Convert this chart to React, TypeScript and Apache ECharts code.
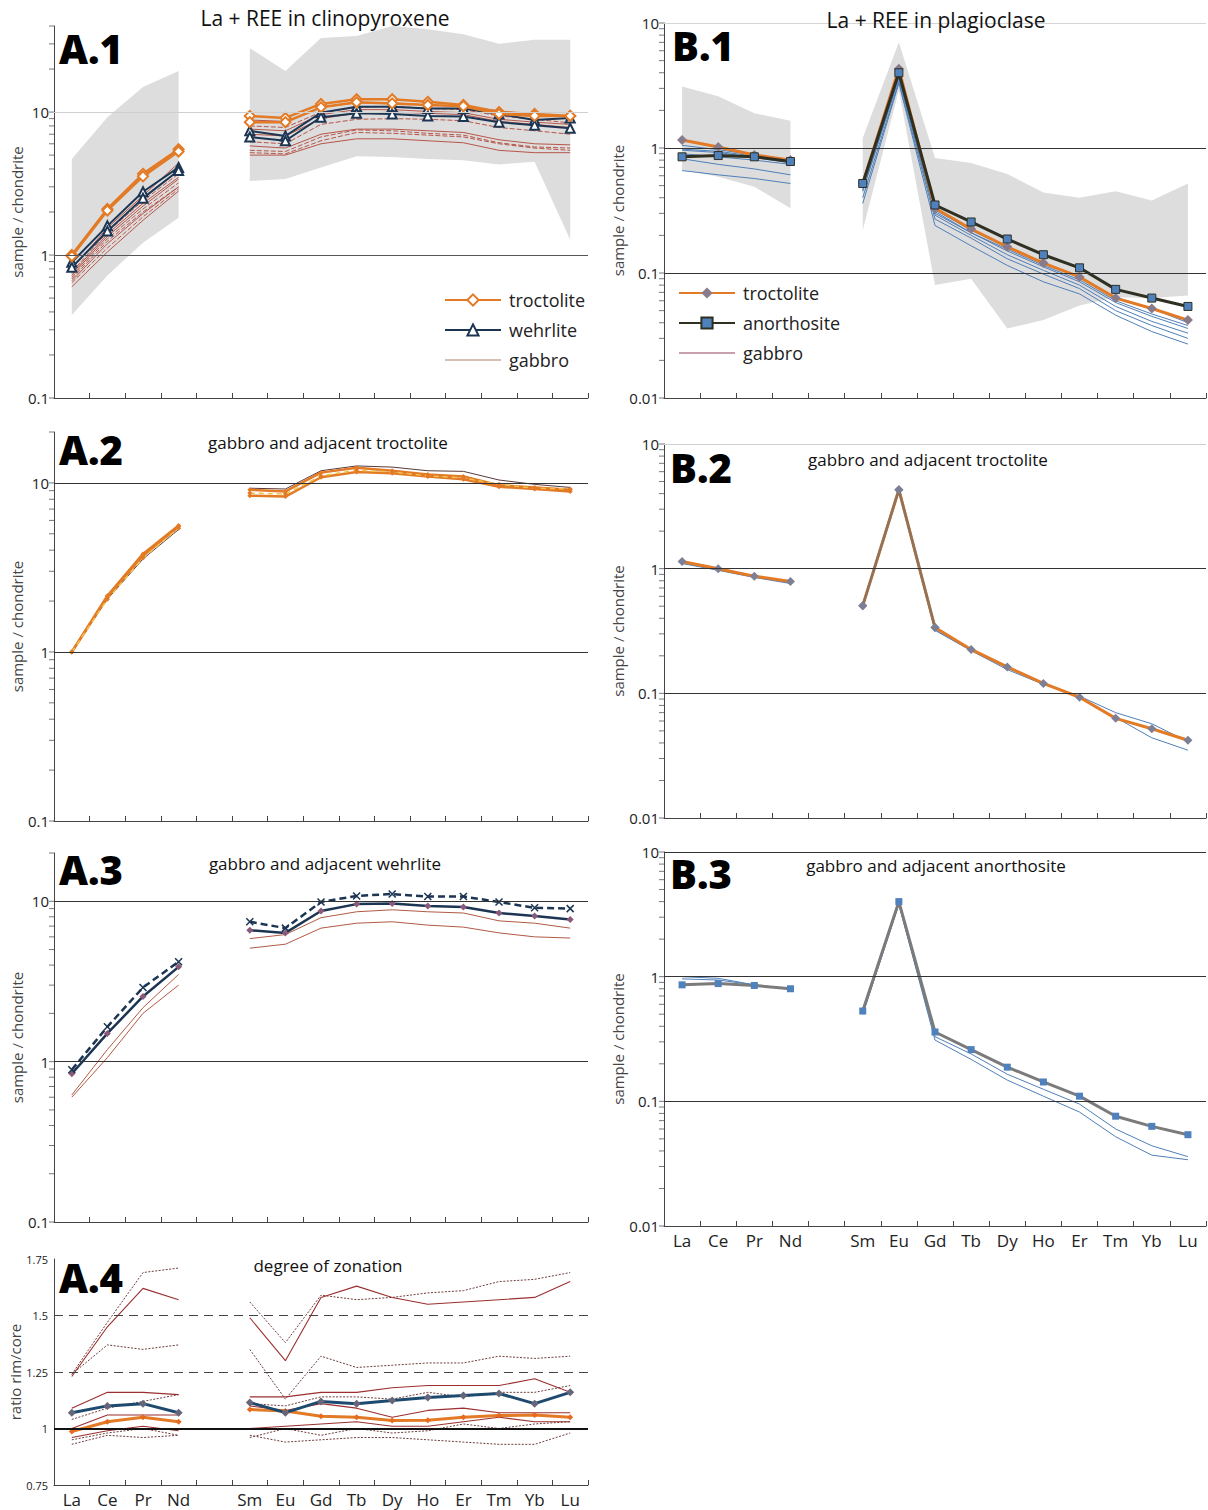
import React, { useEffect, useRef } from 'react';
import * as echarts from 'echarts';

const FONT = "'Open Sans', 'Noto Sans', sans-serif";

// x categories (empty slot = Pm gap)
const AXIS_CATEGORIES = ['La', 'Ce', 'Pr', 'Nd', '', 'Sm', 'Eu', 'Gd', 'Tb', 'Dy', 'Ho', 'Er', 'Tm', 'Yb', 'Lu'];
const LOG_TICK_MULTIPLIERS = [1, 2, 3, 4, 5, 6, 7, 8, 9];

// ---------- A.1 clinopyroxene ----------
const A1_ENV_LOWER = [0.38, 0.72, 1.22, 1.82, 3.3, 3.4, 4.1, 4.9, 4.85, 4.7, 4.6, 4.3, 4.5, 1.28];
const A1_ENV_UPPER = [4.7, 9.2, 15, 19.4, 28, 19.4, 33, 34, 40, 38, 35, 30, 32, 32];
const A1_TROC = [
  [1.0, 2.1, 3.7, 5.5, 9.4, 9.1, 11.4, 12.3, 12.3, 11.8, 11.2, 10.0, 9.7, 9.4],
  [0.98, 2.05, 3.55, 5.3, 8.5, 8.5, 10.8, 11.7, 11.5, 11.2, 11.0, 9.7, 9.4, 9.4],
];
const A1_WEHR = [
  [0.89, 1.6, 2.77, 4.1, 7.4, 6.8, 9.9, 10.9, 10.9, 10.6, 10.6, 9.7, 8.8, 9.1],
  [0.82, 1.47, 2.5, 3.9, 6.7, 6.3, 9.2, 9.8, 9.7, 9.4, 9.3, 8.5, 8.1, 7.7],
];
const A1_GAB = [
  [0.80, 1.55, 2.6, 4.4, 8.8, 8.6, 10.8, 11.6, 11.6, 11.2, 11.0, 10.2, 9.6, 9.2],
  [0.76, 1.45, 2.4, 3.7, 8.0, 7.8, 10.0, 10.8, 11.0, 10.6, 10.4, 9.4, 8.9, 8.4],
  [0.72, 1.35, 2.2, 3.4, 7.0, 6.8, 9.0, 9.8, 10.0, 9.8, 9.6, 8.6, 8.2, 7.8],
  [0.70, 1.30, 2.1, 3.2, 6.2, 6.0, 8.2, 8.9, 9.0, 8.9, 8.7, 7.8, 7.4, 7.0],
  [0.66, 1.20, 1.95, 3.0, 5.8, 5.6, 7.0, 7.6, 7.6, 7.4, 7.2, 6.4, 6.0, 5.9],
  [0.64, 1.12, 1.85, 2.9, 5.4, 5.3, 6.7, 7.5, 7.4, 7.1, 6.9, 6.1, 5.7, 5.6],
  [0.60, 1.05, 1.75, 2.8, 5.0, 5.0, 6.0, 6.5, 6.5, 6.3, 6.1, 5.4, 5.2, 5.2],
  [0.68, 1.25, 2.0, 3.0, 5.2, 5.1, 6.3, 7.2, 7.1, 6.9, 6.7, 6.0, 5.6, 5.4],
  [0.74, 1.40, 2.3, 3.5, 7.6, 7.4, 9.6, 10.4, 10.4, 10.1, 9.9, 8.9, 8.5, 8.2],
];

// ---------- A.2 ----------
const A2_TROC = [
  [1.0, 2.1, 3.7, 5.5, 9.1, 8.9, 11.5, 12.3, 11.8, 11.2, 10.9, 9.7, 9.4, 9.1],
  [1.0, 2.15, 3.8, 5.6, 8.4, 8.3, 10.8, 11.6, 11.4, 10.9, 10.5, 9.5, 9.2, 8.9],
];
const A2_TROC_DASHED = [1.0, 2.05, 3.6, 5.4, 8.7, 8.6, 11.0, 11.9, 11.6, 11.0, 10.7, 9.8, 9.3, 9.2];
const A2_GAB = [1.0, 2.05, 3.55, 5.3, 9.3, 9.2, 11.8, 12.6, 12.4, 11.8, 11.7, 10.4, 9.8, 9.4];

// ---------- A.3 ----------
const A3_WEHR_DASHED = [0.89, 1.65, 2.9, 4.2, 7.45, 6.8, 9.9, 10.8, 11.1, 10.7, 10.7, 9.9, 9.1, 9.0];
const A3_WEHR = [0.84, 1.5, 2.55, 3.9, 6.6, 6.35, 8.7, 9.6, 9.7, 9.35, 9.2, 8.45, 8.1, 7.7];
const A3_GAB = [
  [0.62, 1.19, 2.17, 3.5, 5.85, 6.2, 7.9, 8.6, 8.85, 8.6, 8.45, 7.55, 7.3, 6.8],
  [0.60, 1.06, 2.0, 3.0, 5.1, 5.4, 6.8, 7.3, 7.45, 7.1, 6.9, 6.35, 6.0, 5.9],
];

// ---------- A.4 zonation ----------
const A4_WEHR = [1.07, 1.10, 1.11, 1.07, 1.115, 1.07, 1.12, 1.11, 1.124, 1.137, 1.146, 1.155, 1.11, 1.16];
const A4_TROC = [0.987, 1.03, 1.05, 1.03, 1.084, 1.077, 1.054, 1.05, 1.035, 1.037, 1.05, 1.057, 1.06, 1.05];
const A4_GAB = [
  [1.24, 1.47, 1.69, 1.71, 1.56, 1.38, 1.59, 1.57, 1.58, 1.60, 1.61, 1.65, 1.66, 1.69],
  [1.23, 1.45, 1.62, 1.57, 1.49, 1.30, 1.58, 1.63, 1.58, 1.55, 1.56, 1.57, 1.58, 1.65],
  [1.24, 1.37, 1.35, 1.37, 1.35, 1.13, 1.32, 1.27, 1.28, 1.29, 1.29, 1.32, 1.31, 1.32],
  [1.09, 1.16, 1.16, 1.15, 1.14, 1.14, 1.16, 1.16, 1.18, 1.19, 1.19, 1.19, 1.22, 1.16],
  [1.04, 1.09, 1.12, 1.15, 1.11, 1.10, 1.14, 1.14, 1.13, 1.16, 1.14, 1.16, 1.16, 1.19],
  [1.00, 1.06, 1.06, 1.06, 1.10, 1.08, 1.11, 1.09, 1.05, 1.08, 1.09, 1.07, 1.07, 1.07],
  [0.96, 0.99, 1.01, 0.99, 1.00, 1.01, 1.02, 1.03, 1.01, 1.01, 1.03, 1.05, 1.03, 1.03],
  [0.95, 0.98, 1.00, 0.97, 0.96, 1.00, 0.97, 1.00, 0.98, 0.99, 1.02, 1.00, 1.02, 1.03],
  [0.93, 0.97, 0.96, 0.97, 0.97, 0.94, 0.95, 0.96, 0.96, 0.95, 0.94, 0.93, 0.93, 0.98],
];
const A4_GAB_DOTTED = [true, false, true, false, true, false, false, true, true];

// ---------- B.1 plagioclase ----------
const B1_ENV_LOWER = [0.67, 0.59, 0.49, 0.33, 0.22, 2.9, 0.08, 0.09, 0.036, 0.042, 0.055, 0.064, 0.063, 0.066];
const B1_ENV_UPPER = [3.1, 2.6, 1.9, 1.65, 1.2, 7.0, 0.83, 0.76, 0.62, 0.44, 0.40, 0.45, 0.38, 0.52];
const B1_TROC = [1.16, 1.02, 0.88, 0.80, 0.52, 4.3, 0.33, 0.225, 0.162, 0.12, 0.093, 0.063, 0.052, 0.042];
const B1_ANOR = [0.85, 0.87, 0.85, 0.78, 0.52, 4.0, 0.35, 0.256, 0.187, 0.14, 0.11, 0.074, 0.063, 0.054];
const B1_GAB = [
  [1.05, 0.97, 0.88, 0.79, 0.50, 4.0, 0.32, 0.22, 0.16, 0.12, 0.092, 0.064, 0.052, 0.040],
  [0.96, 0.92, 0.84, 0.76, 0.48, 3.8, 0.30, 0.21, 0.15, 0.112, 0.085, 0.058, 0.045, 0.036],
  [0.82, 0.74, 0.68, 0.61, 0.45, 3.6, 0.29, 0.20, 0.14, 0.105, 0.080, 0.054, 0.041, 0.033],
  [0.66, 0.61, 0.57, 0.52, 0.40, 3.4, 0.27, 0.19, 0.13, 0.098, 0.075, 0.050, 0.038, 0.030],
  [0.90, 0.85, 0.80, 0.74, 0.36, 3.3, 0.24, 0.165, 0.115, 0.085, 0.068, 0.046, 0.034, 0.027],
  [0.98, 0.94, 0.86, 0.78, 0.46, 3.7, 0.31, 0.21, 0.155, 0.115, 0.088, 0.060, 0.047, 0.038],
];

// ---------- B.2 ----------
const B2_TROC = [1.14, 1.0, 0.87, 0.79, 0.505, 4.3, 0.337, 0.225, 0.163, 0.12, 0.093, 0.063, 0.052, 0.042];
const B2_GAB = [
  [1.10, 0.97, 0.85, 0.76, 0.50, 4.2, 0.32, 0.22, 0.155, 0.118, 0.095, 0.070, 0.057, 0.041],
  [1.12, 0.98, 0.86, 0.77, 0.50, 4.2, 0.325, 0.22, 0.16, 0.12, 0.092, 0.064, 0.044, 0.035],
];
const B2_GAB_GREY = [null, null, null, null, 0.505, 4.3, 0.337, null, null, null, null, null, null, null];

// ---------- B.3 ----------
const B3_ANOR = [0.86, 0.88, 0.85, 0.80, 0.53, 4.0, 0.36, 0.26, 0.188, 0.143, 0.110, 0.076, 0.063, 0.054];
const B3_GAB = [
  [1.0, 0.97, 0.86, 0.80, 0.50, 3.8, 0.33, 0.24, 0.165, 0.125, 0.095, 0.060, 0.044, 0.036],
  [0.96, 0.94, 0.86, 0.79, 0.50, 3.8, 0.31, 0.217, 0.148, 0.110, 0.082, 0.052, 0.037, 0.034],
];

// ---------- styles ----------
const ORANGE = '#e27a26';
const NAVY = '#1c3553';
const GAB_RED = '#b2473a';
const BLUE = '#4f7fb8';
const SQUARE_BLUE = '#4f81bd';
const ANOR_DARK = '#2f2f22';
const ENV_GREY = '#dddddd';

const PANELS = [
  { key: 'A1', left: 54, top: 26, width: 534, height: 372, log: true, min: 0.1, max: 40, showX: false, name: 'sample / chondrite', nameGap: 28 },
  { key: 'A2', left: 54, top: 432, width: 534, height: 389, log: true, min: 0.1, max: 20, showX: false, name: 'sample / chondrite', nameGap: 28 },
  { key: 'A3', left: 54, top: 853, width: 534, height: 369, log: true, min: 0.1, max: 20, showX: false, name: 'sample / chondrite', nameGap: 28 },
  { key: 'A4', left: 54, top: 1259, width: 534, height: 226, log: false, min: 0.75, max: 1.75, showX: true, name: 'ratio rim/core', nameGap: 30 },
  { key: 'B1', left: 664, top: 23, width: 542, height: 375, log: true, min: 0.01, max: 10, showX: false, name: 'sample / chondrite', nameGap: 31 },
  { key: 'B2', left: 664, top: 444, width: 542, height: 374, log: true, min: 0.01, max: 10, showX: false, name: 'sample / chondrite', nameGap: 31 },
  { key: 'B3', left: 664, top: 852, width: 542, height: 374, log: true, min: 0.01, max: 10, showX: true, name: 'sample / chondrite', nameGap: 31 },
];

const toRow = (v: (number | null)[]) => [...v.slice(0, 4), null, ...v.slice(4)];

function buildOption() {
  const grid: any[] = [];
  const xAxis: any[] = [];
  const yAxis: any[] = [];
  const series: any[] = [];

  PANELS.forEach((p, i) => {
    grid.push({ left: p.left, top: p.top, width: p.width, height: p.height });
    xAxis.push({
      type: 'category', gridIndex: i, data: AXIS_CATEGORIES, boundaryGap: true,
      axisLine: { lineStyle: { color: '#444', width: 1 } },
      axisTick: { show: true, inside: true, length: 5, alignWithLabel: false, lineStyle: { color: '#444' } },
      axisLabel: { show: p.showX, interval: 0, fontSize: 17, color: '#222', fontFamily: FONT, margin: 6 },
      splitLine: { show: false },
    });
    const yBase: any = {
      gridIndex: i, min: p.min, max: p.max,
      axisLine: { show: true, lineStyle: { color: '#444' } },
      axisTick: { show: false },
      splitLine: { show: false },
      name: p.name, nameLocation: 'middle', nameGap: p.nameGap,
      nameTextStyle: { fontSize: 15, color: '#444', fontFamily: FONT },
    };
    if (p.log) {
      yAxis.push({
        ...yBase, type: 'log', logBase: 10,
        axisLabel: {
          fontSize: 15, color: '#222', fontFamily: FONT, margin: 5,
          formatter: (v: number) => {
            const l = Math.log10(v);
            if (Math.abs(l - Math.round(l)) > 1e-6) return '';
            return String(Number(Math.pow(10, Math.round(l)).toPrecision(1)));
          },
        },
      });
    } else {
      yAxis.push({
        ...yBase, type: 'value', interval: 0.25,
        axisLabel: { fontSize: 11, color: '#222', fontFamily: FONT, margin: 6 },
      });
    }
  });

  // hidden value x axes for minor log ticks
  const tickAxisIndex: Record<number, number> = {};
  PANELS.forEach((p, i) => {
    if (!p.log) return;
    tickAxisIndex[i] = xAxis.length;
    xAxis.push({ type: 'value', gridIndex: i, min: 0, max: 1, show: false });
  });

  const idx = (k: string) => PANELS.findIndex((p) => p.key === k);

  const line = (k: string, values: (number | null)[], opts: any = {}) => {
    const g = idx(k);
    series.push({
      type: 'line', xAxisIndex: g, yAxisIndex: g, data: toRow(values),
      symbol: 'none', silent: true, z: 3, ...opts,
    });
  };

  const envelope = (k: string, lower: number[], upper: number[]) => {
    const g = idx(k);
    const lo = toRow(lower);
    const up = toRow(upper);
    const diff = up.map((u, j) => (u == null || lo[j] == null ? null : (u as number) - (lo[j] as number)));
    series.push({
      type: 'line', xAxisIndex: g, yAxisIndex: g, data: lo, stack: 'env' + k,
      symbol: 'none', lineStyle: { opacity: 0, width: 0 }, silent: true, z: 1,
    });
    series.push({
      type: 'line', xAxisIndex: g, yAxisIndex: g, data: diff, stack: 'env' + k,
      symbol: 'none', lineStyle: { opacity: 0, width: 0 }, areaStyle: { color: ENV_GREY, opacity: 1 },
      silent: true, z: 1,
    });
  };

  const hlines = (k: string, lines: { v: number; c: string; w: number; t?: any }[]) => {
    const g = idx(k);
    series.push({
      type: 'line', xAxisIndex: g, yAxisIndex: g, data: [], silent: true, z: 2,
      markLine: {
        silent: true, symbol: ['none', 'none'], label: { show: false }, animation: false,
        data: lines.map((l) => ({ yAxis: l.v, lineStyle: { color: l.c, width: l.w, type: l.t || 'solid' } })),
      },
    });
  };

  // minor ticks on log axes
  PANELS.forEach((p, i) => {
    if (!p.log) return;
    const data: number[][] = [];
    for (let e = Math.floor(Math.log10(p.min)); e <= Math.ceil(Math.log10(p.max)); e++) {
      LOG_TICK_MULTIPLIERS.forEach((m) => {
        const v = Number((m * Math.pow(10, e)).toPrecision(3));
        if (v >= p.min && v <= p.max) data.push([0, v]);
      });
    }
    series.push({
      type: 'scatter', xAxisIndex: tickAxisIndex[i], yAxisIndex: i, data,
      symbol: 'rect', symbolSize: [5, 1], symbolOffset: [-2.5, 0],
      itemStyle: { color: '#555' }, silent: true, z: 5,
    });
  });

  // ---- A.1 ----
  envelope('A1', A1_ENV_LOWER, A1_ENV_UPPER);
  hlines('A1', [{ v: 1, c: '#555', w: 1 }, { v: 10, c: '#cfcfcf', w: 1 }]);
  A1_GAB.forEach((g, j) => line('A1', g, {
    name: 'A1:gabbro', lineStyle: { color: GAB_RED, width: 1, type: j % 2 ? [5, 2] : 'solid', opacity: 0.9 },
  }));
  A1_WEHR.forEach((w) => line('A1', w, {
    name: 'A1:wehrlite', symbol: 'emptyTriangle', symbolSize: 9,
    lineStyle: { color: NAVY, width: 2 }, itemStyle: { color: NAVY, borderWidth: 1.5 },
  }));
  A1_TROC.forEach((t) => line('A1', t, {
    name: 'A1:troctolite', symbol: 'emptyDiamond', symbolSize: 10,
    lineStyle: { color: ORANGE, width: 2.5 }, itemStyle: { color: ORANGE, borderWidth: 1.5 },
  }));

  // ---- A.2 ----
  hlines('A2', [{ v: 1, c: '#333', w: 1 }, { v: 10, c: '#333', w: 1 }]);
  line('A2', A2_GAB, { lineStyle: { color: '#5a3a3a', width: 1 } });
  A2_TROC.forEach((t) => line('A2', t, {
    symbol: 'diamond', symbolSize: 5, lineStyle: { color: ORANGE, width: 2.5 }, itemStyle: { color: ORANGE },
  }));
  line('A2', A2_TROC_DASHED, {
    symbol: 'diamond', symbolSize: 5, lineStyle: { color: '#f0c24c', width: 1.5, type: [5, 4] }, itemStyle: { color: ORANGE },
  });

  // ---- A.3 ----
  hlines('A3', [{ v: 1, c: '#333', w: 1 }, { v: 10, c: '#333', w: 1 }]);
  A3_GAB.forEach((g) => line('A3', g, { lineStyle: { color: '#b05a45', width: 1 } }));
  line('A3', A3_WEHR, {
    symbol: 'diamond', symbolSize: 7, lineStyle: { color: NAVY, width: 2.5 }, itemStyle: { color: '#8b5a7a' },
  });
  line('A3', A3_WEHR_DASHED, {
    symbol: 'path://M0,0L10,10M10,0L0,10', symbolSize: 7,
    lineStyle: { color: NAVY, width: 2.5, type: [7, 4] },
    itemStyle: { color: 'none', borderColor: NAVY, borderWidth: 1.5 },
  });

  // ---- A.4 ----
  hlines('A4', [
    { v: 1, c: '#111', w: 2 },
    { v: 1.25, c: '#444', w: 1.2, t: [9, 6] },
    { v: 1.5, c: '#444', w: 1.2, t: [9, 6] },
  ]);
  A4_GAB.forEach((g, j) => line('A4', g, {
    lineStyle: A4_GAB_DOTTED[j]
      ? { color: '#6e3d3d', width: 1, type: [2, 1.5] }
      : { color: '#9c2f2f', width: 1.1 },
  }));
  line('A4', A4_TROC, {
    symbol: 'diamond', symbolSize: 6, lineStyle: { color: ORANGE, width: 3 }, itemStyle: { color: '#e86a1e' },
  });
  line('A4', A4_WEHR, {
    symbol: 'diamond', symbolSize: 8, lineStyle: { color: '#1d4a6e', width: 3 }, itemStyle: { color: '#66667a' },
  });

  // ---- B.1 ----
  envelope('B1', B1_ENV_LOWER, B1_ENV_UPPER);
  hlines('B1', [{ v: 10, c: '#d5d5d5', w: 1 }, { v: 1, c: '#333', w: 1 }, { v: 0.1, c: '#333', w: 1 }]);
  B1_GAB.forEach((g) => line('B1', g, { name: 'B1:gabbro', lineStyle: { color: BLUE, width: 1 } }));
  line('B1', B1_TROC, {
    name: 'B1:troctolite', symbol: 'diamond', symbolSize: 10,
    lineStyle: { color: ORANGE, width: 3 }, itemStyle: { color: '#8a7b8a' },
  });
  line('B1', B1_ANOR, {
    name: 'B1:anorthosite', symbol: 'rect', symbolSize: 8,
    lineStyle: { color: ANOR_DARK, width: 3 }, itemStyle: { color: SQUARE_BLUE, borderColor: ANOR_DARK, borderWidth: 1 },
  });

  // ---- B.2 ----
  hlines('B2', [{ v: 10, c: '#d0d0d0', w: 1 }, { v: 1, c: '#333', w: 1 }, { v: 0.1, c: '#333', w: 1 }]);
  B2_GAB.forEach((g) => line('B2', g, { lineStyle: { color: BLUE, width: 1 } }));
  line('B2', B2_TROC, {
    symbol: 'diamond', symbolSize: 9, lineStyle: { color: ORANGE, width: 3 }, itemStyle: { color: '#7d7f95' },
  });
  line('B2', B2_GAB_GREY, {
    symbol: 'diamond', symbolSize: 9, lineStyle: { color: '#8c735f', width: 2.5 }, itemStyle: { color: '#7d7f95' }, z: 4,
  });

  // ---- B.3 ----
  hlines('B3', [{ v: 10, c: '#333', w: 1 }, { v: 1, c: '#333', w: 1 }, { v: 0.1, c: '#333', w: 1 }]);
  B3_GAB.forEach((g) => line('B3', g, { lineStyle: { color: BLUE, width: 1 } }));
  line('B3', B3_ANOR, {
    symbol: 'rect', symbolSize: 7, lineStyle: { color: '#7b7b7b', width: 3 }, itemStyle: { color: SQUARE_BLUE },
  });

  const legendText = { fontSize: 18, color: '#222', fontFamily: FONT, padding: [0, 0, 0, 3] };
  const hiddenSymbol = { opacity: 0, borderWidth: 0 };
  const legend = [
    {
      left: 439, top: 286, orient: 'vertical', itemWidth: 56, itemHeight: 14, itemGap: 12,
      selectedMode: false, textStyle: legendText,
      formatter: (n: string) => n.split(':')[1],
      data: ['A1:troctolite', 'A1:wehrlite', { name: 'A1:gabbro', itemStyle: hiddenSymbol, lineStyle: { color: '#c9a99b', width: 1.5, type: 'solid', opacity: 1 } }],
    },
    {
      left: 673, top: 279, orient: 'vertical', itemWidth: 56, itemHeight: 14, itemGap: 12,
      selectedMode: false, textStyle: legendText,
      formatter: (n: string) => n.split(':')[1],
      data: ['B1:troctolite', 'B1:anorthosite', { name: 'B1:gabbro', itemStyle: hiddenSymbol, lineStyle: { color: '#b87f91', width: 1.5, opacity: 1 } }],
    },
  ];

  const txt = (text: string, x: number, y: number, size: number, align: string, bold = false) => ({
    type: 'text', x, y, silent: true, z: 20,
    style: {
      text, fontSize: size, fontFamily: FONT, fontWeight: bold ? 800 : 'normal',
      fill: bold ? '#000' : '#111', align, verticalAlign: 'middle',
    },
  });

  const graphic = [
    txt('La + REE in clinopyroxene', 325, 18, 21, 'center'),
    txt('La + REE in plagioclase', 936, 20, 21, 'center'),
    txt('A.1', 59, 48, 40, 'left', true),
    txt('B.1', 672, 45, 40, 'left', true),
    txt('A.2', 59, 449, 40, 'left', true),
    txt('B.2', 670, 467, 40, 'left', true),
    txt('A.3', 59, 869, 40, 'left', true),
    txt('B.3', 670, 873, 40, 'left', true),
    txt('A.4', 59, 1277, 40, 'left', true),
    txt('gabbro and adjacent troctolite', 328, 442, 17, 'center'),
    txt('gabbro and adjacent wehrlite', 325, 863, 17, 'center'),
    txt('degree of zonation', 328, 1265, 17, 'center'),
    txt('gabbro and adjacent troctolite', 928, 459, 17, 'center'),
    txt('gabbro and adjacent anorthosite', 936, 865, 17, 'center'),
  ];

  return {
    animation: false,
    backgroundColor: '#ffffff',
    textStyle: { fontFamily: FONT },
    grid, xAxis, yAxis, series, legend, graphic,
  };
}

export default function App() {
  const ref = useRef<HTMLDivElement>(null);
  useEffect(() => {
    const chart = echarts.init(ref.current!, null, { renderer: 'svg' });
    chart.setOption(buildOption() as any);
    return () => chart.dispose();
  }, []);
  return (
    <div
      ref={ref}
      style={{ position: 'absolute', left: 0, top: 0, width: 1208, height: 1510, background: '#fff' }}
    />
  );
}
